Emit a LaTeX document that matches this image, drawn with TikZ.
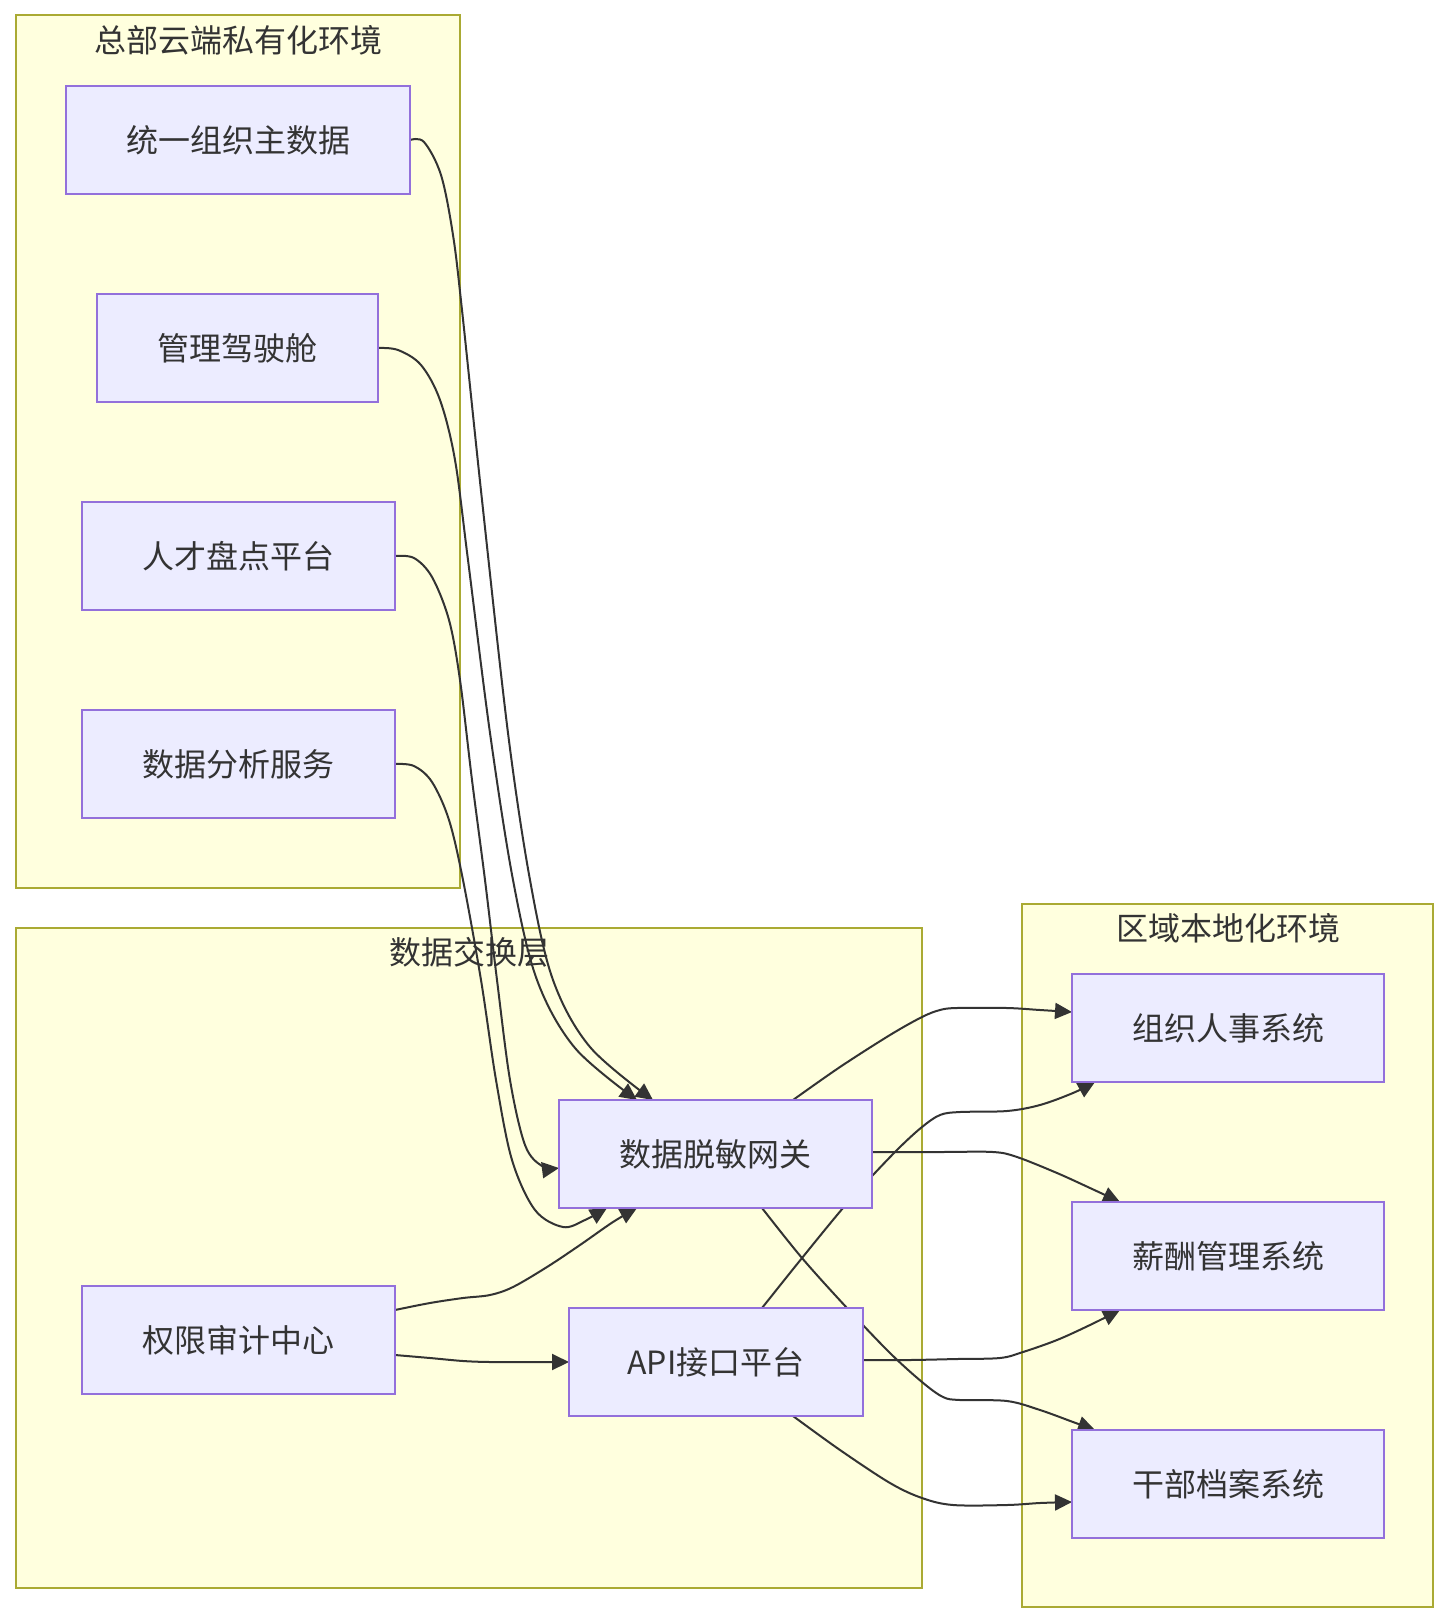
\documentclass[tikz,border=0pt]{standalone}
\usepackage{fontspec}
\setmainfont{Noto Sans CJK SC}
\usetikzlibrary{arrows.meta,calc}
\pgfdeclarelayer{bg}
\pgfdeclarelayer{edges}
\pgfsetlayers{bg,edges,main}
\definecolor{clfill}{HTML}{FFFFDE}
\definecolor{cldraw}{HTML}{AAAA33}
\definecolor{ndfill}{HTML}{ECECFF}
\definecolor{nddraw}{HTML}{9370DB}
\definecolor{txt}{HTML}{333333}
\begin{document}
\begin{tikzpicture}[x=1pt,y=-1pt,
  cluster/.style={draw=cldraw,fill=clfill,line width=2pt,inner sep=0pt,outer sep=0pt},
  ctitle/.style={text=txt,font=\fontsize{32}{38}\selectfont,inner sep=0pt},
  box/.style={draw=nddraw,fill=ndfill,line width=1.5pt,inner sep=0pt,outer sep=0pt,minimum height=108pt,text=txt,font=\fontsize{32}{38}\selectfont},
  link/.style={draw=txt,line width=2pt,-{Triangle[length=17pt,width=16pt]}},
]
\useasboundingbox (0,0) rectangle (1450,1624);

% clusters
\begin{pgfonlayer}{bg}
\fill[white] (0,0) rectangle (1450,1624);
\node[cluster,minimum width=444.5pt,minimum height=872.5pt] (c1) at (237.75,451.75) {};
\node[cluster,minimum width=906.5pt,minimum height=660pt] (c2) at (468.75,1258) {};
\node[cluster,minimum width=411pt,minimum height=703pt] (c3) at (1227.5,1255.5) {};
\node[ctitle] (t1) at (238,40) {总部云端私有化环境};
\node[ctitle] (t2) at (469,952) {数据交换层};
\node[ctitle] (t3) at (1228,928) {区域本地化环境};
\end{pgfonlayer}

% nodes
\node[box,minimum width=344pt] (n1) at (238,140) {统一组织主数据};
\node[box,minimum width=281pt] (n2) at (237.5,348) {管理驾驶舱};
\node[box,minimum width=313pt] (n3) at (238.5,556) {人才盘点平台};
\node[box,minimum width=313pt] (n4) at (238.5,764) {数据分析服务};
\node[box,minimum width=313pt] (gw) at (715.5,1154) {数据脱敏网关};
\node[box,minimum width=313pt] (au) at (238.5,1340) {权限审计中心};
\node[box,minimum width=294pt] (api) at (716,1362) {API接口平台};
\node[box,minimum width=312pt] (o1) at (1228,1028) {组织人事系统};
\node[box,minimum width=312pt] (o2) at (1228,1256) {薪酬管理系统};
\node[box,minimum width=312pt] (o3) at (1228,1484) {干部档案系统};

% connector end points
\coordinate (e1e) at ($(gw.north west)+(94,0)$);
\coordinate (e2e) at ($(gw.north west)+(78,0)$);
\coordinate (e3e) at ($(gw.west)+(0,14)$);
\coordinate (e4e) at ($(gw.south west)+(48,0)$);
\coordinate (e5s) at ($(au.east)+(0,-30)$);
\coordinate (e5e) at ($(gw.south west)+(78,0)$);
\coordinate (e6s) at ($(au.east)+(0,15)$);
\coordinate (e7s) at ($(gw.north west)+(234,0)$);
\coordinate (e7e) at ($(o1.west)+(0,-16)$);
\coordinate (e8s) at ($(gw.east)+(0,-2)$);
\coordinate (e8e) at ($(o2.north west)+(48,0)$);
\coordinate (e9s) at ($(gw.south west)+(203,0)$);
\coordinate (e9e) at ($(o3.north west)+(23,0)$);
\coordinate (e10s) at ($(api.north west)+(193,0)$);
\coordinate (e10e) at ($(o1.south west)+(23,0)$);
\coordinate (e11s) at ($(api.east)+(0,-2)$);
\coordinate (e11e) at ($(o2.south west)+(48,0)$);
\coordinate (e12s) at ($(api.south west)+(224,0)$);
\coordinate (e12e) at ($(o3.west)+(0,18)$);

\begin{pgfonlayer}{edges}
\draw[link] plot[smooth,tension=0.55] coordinates {(n1.east) (424,142) (441,175) (453,235) (462,310) (482,500) (508,733) (530,880) (553,980) (590,1047) (e1e)};
\draw[link] plot[smooth,tension=0.55] coordinates {(n2.east) (398,350) (421,365) (440,400) (455,460) (468,560) (490,733) (513,880) (537,980) (575,1048) (e2e)};
\draw[link] plot[smooth,tension=0.55] coordinates {(n3.east) (414,558) (432,577) (449,620) (460,680) (472,780) (485,880) (497,980) (510,1080) (525,1145) (542,1166) (e3e)};
\draw[link] plot[smooth,tension=0.55] coordinates {(n4.east) (414,766) (432,782) (449,820) (463,880) (481,980) (496,1080) (512,1160) (535,1210) (563,1227) (585,1220) (e4e)};
\draw[link] plot[smooth,tension=0.55] coordinates {(e5s) (430,1303) (463,1298) (490,1295) (513,1287) (547,1267) (580,1245) (613,1222) (e5e)};
\draw[link] plot[smooth,tension=0.55] coordinates {(e6s) (430,1358) (463,1361) (490,1362) (530,1362) (api.west)};
\draw[link] plot[smooth,tension=0.55] coordinates {(e7s) (840,1067) (890,1035) (922,1017) (940,1010) (957,1008) (1007,1008) (1040,1010) (e7e)};
\draw[link] plot[smooth,tension=0.55] coordinates {(e8s) (940,1152) (993,1152) (1017,1157) (1057,1173) (1090,1188) (e8e)};
\draw[link] plot[smooth,tension=0.55] coordinates {(e9s) (802,1258) (847,1308) (890,1353) (922,1382) (943,1397) (960,1400) (1007,1401) (1040,1410) (1073,1422) (e9e)};
\draw[link] plot[smooth,tension=0.55] coordinates {(e10s) (802,1258) (843,1208) (873,1175) (900,1147) (922,1127) (940,1115) (960,1112) (1007,1111) (1040,1105) (1073,1093) (e10e)};
\draw[link] plot[smooth,tension=0.55] coordinates {(e11s) (910,1360) (957,1359) (1000,1358) (1023,1352) (1057,1340) (1090,1325) (e11e)};
\draw[link] plot[smooth,tension=0.55] coordinates {(e12s) (840,1450) (890,1483) (922,1498) (953,1505) (1007,1505) (1040,1503) (e12e)};
\end{pgfonlayer}
\end{tikzpicture}
\end{document}
